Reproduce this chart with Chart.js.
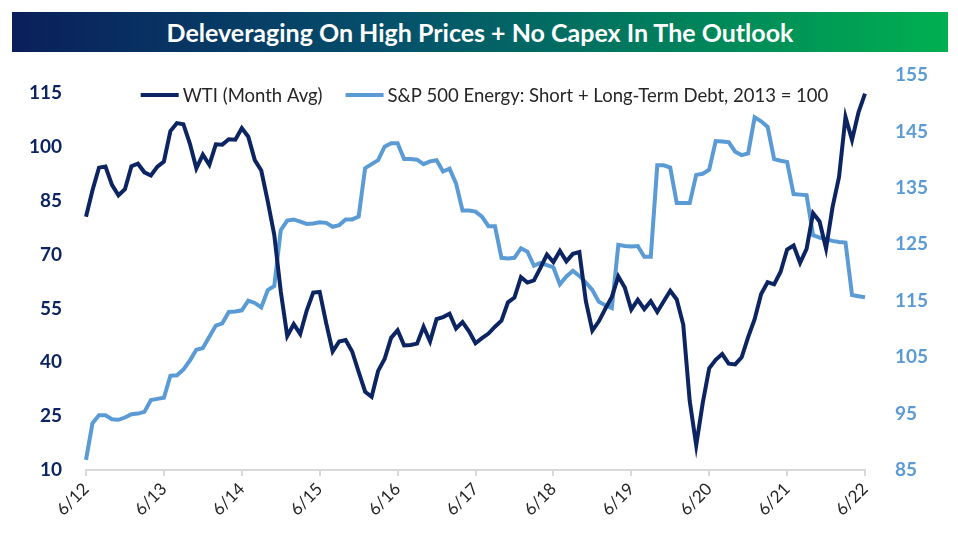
<!DOCTYPE html>
<html>
<head>
<meta charset="utf-8">
<script src="https://cdn.jsdelivr.net/npm/chart.js@4.4.1/dist/chart.umd.min.js"></script>
<style>
    body { margin: 0; background: #ffffff; }
    #wrap { position: relative; width: 958px; height: 538px; }
    #title {
        position: absolute; left: 12px; top: 12px; width: 936px; height: 40px;
        background: linear-gradient(to right, #0a1f5c 0%, #05506b 40%, #00875a 75%, #00b050 100%);
        color: #ffffff; font-family: Lato, sans-serif; font-weight: bold; font-size: 25px;
        line-height: 40px; text-align: center; z-index: 2;
    }
    canvas { position: absolute; left: 0; top: 0; }
</style>
</head>
<body>
<div id="wrap">
    <div id="title">Deleveraging On High Prices + No Capex In The Outlook</div>
    <canvas id="debtChart" width="958" height="538"></canvas>
</div>
<script>
// monthly categories 6/12 .. 6/22
var months = [];
for (var i = 0; i < 121; i++) {
    var m = (5 + i) % 12 + 1;
    var y = 12 + Math.floor((5 + i) / 12);
    months.push(m + '/' + y);
}
var xTickLabels = ['6/12', '6/13', '6/14', '6/15', '6/16', '6/17', '6/18', '6/19', '6/20', '6/21', '6/22'];
var leftTicks = [10, 25, 40, 55, 70, 85, 100, 115];
var rightTicks = [85, 95, 105, 115, 125, 135, 145, 155];

// WTI monthly average ($)
var wti = [
    80.5, 87.9, 94.2, 94.5, 89.4, 86.5, 88.2,
    94.6, 95.3, 92.9, 92.0, 94.5, 95.9, 104.4, 106.6, 106.3, 100.9, 94.0, 97.8,
    95.0, 100.7, 100.6, 102.1, 102.0, 105.2, 102.8, 96.3, 93.4, 84.8, 75.5, 59.8,
    47.3, 50.6, 47.9, 54.4, 59.4, 59.6, 50.9, 43.0, 45.8, 46.2, 43.0, 37.3,
    31.8, 30.4, 37.6, 40.9, 46.8, 48.9, 44.7, 44.8, 45.2, 49.9, 45.8, 52.0,
    52.6, 53.5, 49.4, 51.2, 48.6, 45.3, 46.7, 48.0, 49.9, 51.6, 56.7, 58.0,
    63.7, 62.2, 62.8, 66.3, 70.0, 67.9, 71.0, 68.1, 70.2, 70.7, 57.0, 48.8,
    51.4, 54.9, 58.2, 63.9, 60.8, 54.7, 57.4, 54.8, 57.0, 54.0, 57.0, 59.9,
    57.5, 50.5, 29.2, 16.9, 28.6, 38.3, 40.7, 42.3, 39.6, 39.4, 41.4, 47.0,
    52.0, 59.0, 62.3, 61.7, 65.2, 71.4, 72.5, 67.7, 71.6, 81.5, 79.2, 71.7,
    83.2, 91.6, 108.3, 101.9, 109.6, 114.8
];

// S&P 500 Energy short + long-term debt, 2013 = 100
var energyDebt = [
    86.8, 93.3, 94.7, 94.7, 94.0, 93.9, 94.3,
    94.9, 95.0, 95.3, 97.4, 97.6, 97.8, 101.7, 101.8, 102.8, 104.4, 106.3, 106.6,
    108.6, 110.6, 111.0, 113.0, 113.1, 113.3, 115.0, 114.6, 113.8, 116.9, 117.6, 127.5,
    129.2, 129.4, 129.0, 128.6, 128.7, 128.9, 128.8, 128.1, 128.4, 129.4, 129.4, 129.9,
    138.5, 139.2, 139.9, 142.3, 142.9, 142.9, 140.1, 140.1, 140.0, 139.2, 139.7, 139.9,
    137.9, 138.4, 135.8, 131.0, 131.0, 130.8, 129.9, 128.2, 128.2, 122.6, 122.5, 122.6,
    124.3, 123.7, 121.2, 121.7, 121.3, 120.9, 117.9, 119.3, 120.3, 119.4, 118.2, 116.9,
    114.8, 114.2, 113.7, 124.9, 124.7, 124.6, 124.7, 122.8, 122.8, 139.0, 139.0, 138.6,
    132.3, 132.3, 132.3, 137.3, 137.5, 138.2, 143.3, 143.2, 143.1, 141.4, 140.8, 141.1,
    147.5, 146.8, 145.8, 140.1, 139.8, 139.6, 133.9, 133.8, 133.7, 126.6, 126.2, 125.9,
    125.6, 125.4, 125.3, 116.0, 115.8, 115.6
];

var navy = '#0c2461';
var lightBlue = '#5b9bd5';

// legend drawn inside the plot, one row, like the original
var inlineLegend = {
    id: 'inlineLegend',
    afterDraw: function(chart) {
        var c = chart.ctx;
        var swatch = 38, gap = 4, itemGap = 23, yMid = 95;
        c.save();
        c.font = '18.5px Lato';
        c.textBaseline = 'middle';
        var widths = chart.data.datasets.map(function(ds) {
            return swatch + gap + c.measureText(ds.label).width;
        });
        var total = widths.reduce(function(a, b) { return a + b; }, 0) + itemGap * (widths.length - 1);
        var x = (chart.chartArea.left + chart.chartArea.right) / 2 + 9 - total / 2;
        chart.data.datasets.forEach(function(ds, k) {
            c.fillStyle = ds.borderColor;
            c.fillRect(x, yMid - 2, swatch, 4);
            c.fillStyle = '#262626';
            c.fillText(ds.label, x + swatch + gap, yMid + 1);
            x += widths[k] + itemGap;
        });
        c.restore();
    }
};

var ctx = document.getElementById('debtChart').getContext('2d');
var debtChart = new Chart(ctx, {
    type: 'line',
    data: {
        labels: months,
        datasets: [
            {
                label: 'WTI (Month Avg)',
                data: wti,
                borderColor: navy,
                backgroundColor: navy,
                borderWidth: 4,
                pointRadius: 0,
                yAxisID: 'y'
            },
            {
                label: 'S&P 500 Energy: Short + Long-Term Debt, 2013 = 100',
                data: energyDebt,
                borderColor: lightBlue,
                backgroundColor: lightBlue,
                borderWidth: 4,
                pointRadius: 0,
                yAxisID: 'y1'
            }
        ]
    },
    plugins: [inlineLegend],
    options: {
        responsive: false,
        animation: false,
        layout: { padding: { top: 75, left: 0, right: 0, bottom: 0 } },
        plugins: {
            tooltip: { enabled: false },
            legend: { display: false }
        },
        scales: {
            x: {
                afterFit: function(scale) { scale.height = 68; },
                grid: { display: true, drawOnChartArea: false, drawTicks: true, tickLength: 6, color: '#d9d9d9', lineWidth: 2 },
                border: { color: '#d9d9d9', width: 2 },
                ticks: {
                    autoSkip: false,
                    maxRotation: 45,
                    minRotation: 45,
                    padding: 3,
                    color: '#262626',
                    font: { family: 'Lato', size: 17 },
                    callback: function(value, index) {
                        var lab = months[index];
                        return xTickLabels.indexOf(lab) >= 0 ? lab : null;
                    }
                }
            },
            y: {
                position: 'left',
                min: 10,
                max: 120,
                afterFit: function(scale) { scale.width = 86; },
                afterBuildTicks: function(scale) {
                    scale.ticks = leftTicks.map(function(v) { return { value: v }; });
                },
                grid: { display: false, drawTicks: false },
                border: { display: false },
                ticks: {
                    padding: 24,
                    color: navy,
                    font: { family: 'Lato', size: 19, weight: 'bold' }
                }
            },
            y1: {
                position: 'right',
                min: 85,
                max: 155,
                afterFit: function(scale) { scale.width = 93; },
                afterBuildTicks: function(scale) {
                    scale.ticks = rightTicks.map(function(v) { return { value: v }; });
                },
                grid: { display: false, drawTicks: false },
                border: { display: false },
                ticks: {
                    padding: 30,
                    color: lightBlue,
                    font: { family: 'Lato', size: 19, weight: 'bold' }
                }
            }
        }
    }
});
</script>
</body>
</html>
